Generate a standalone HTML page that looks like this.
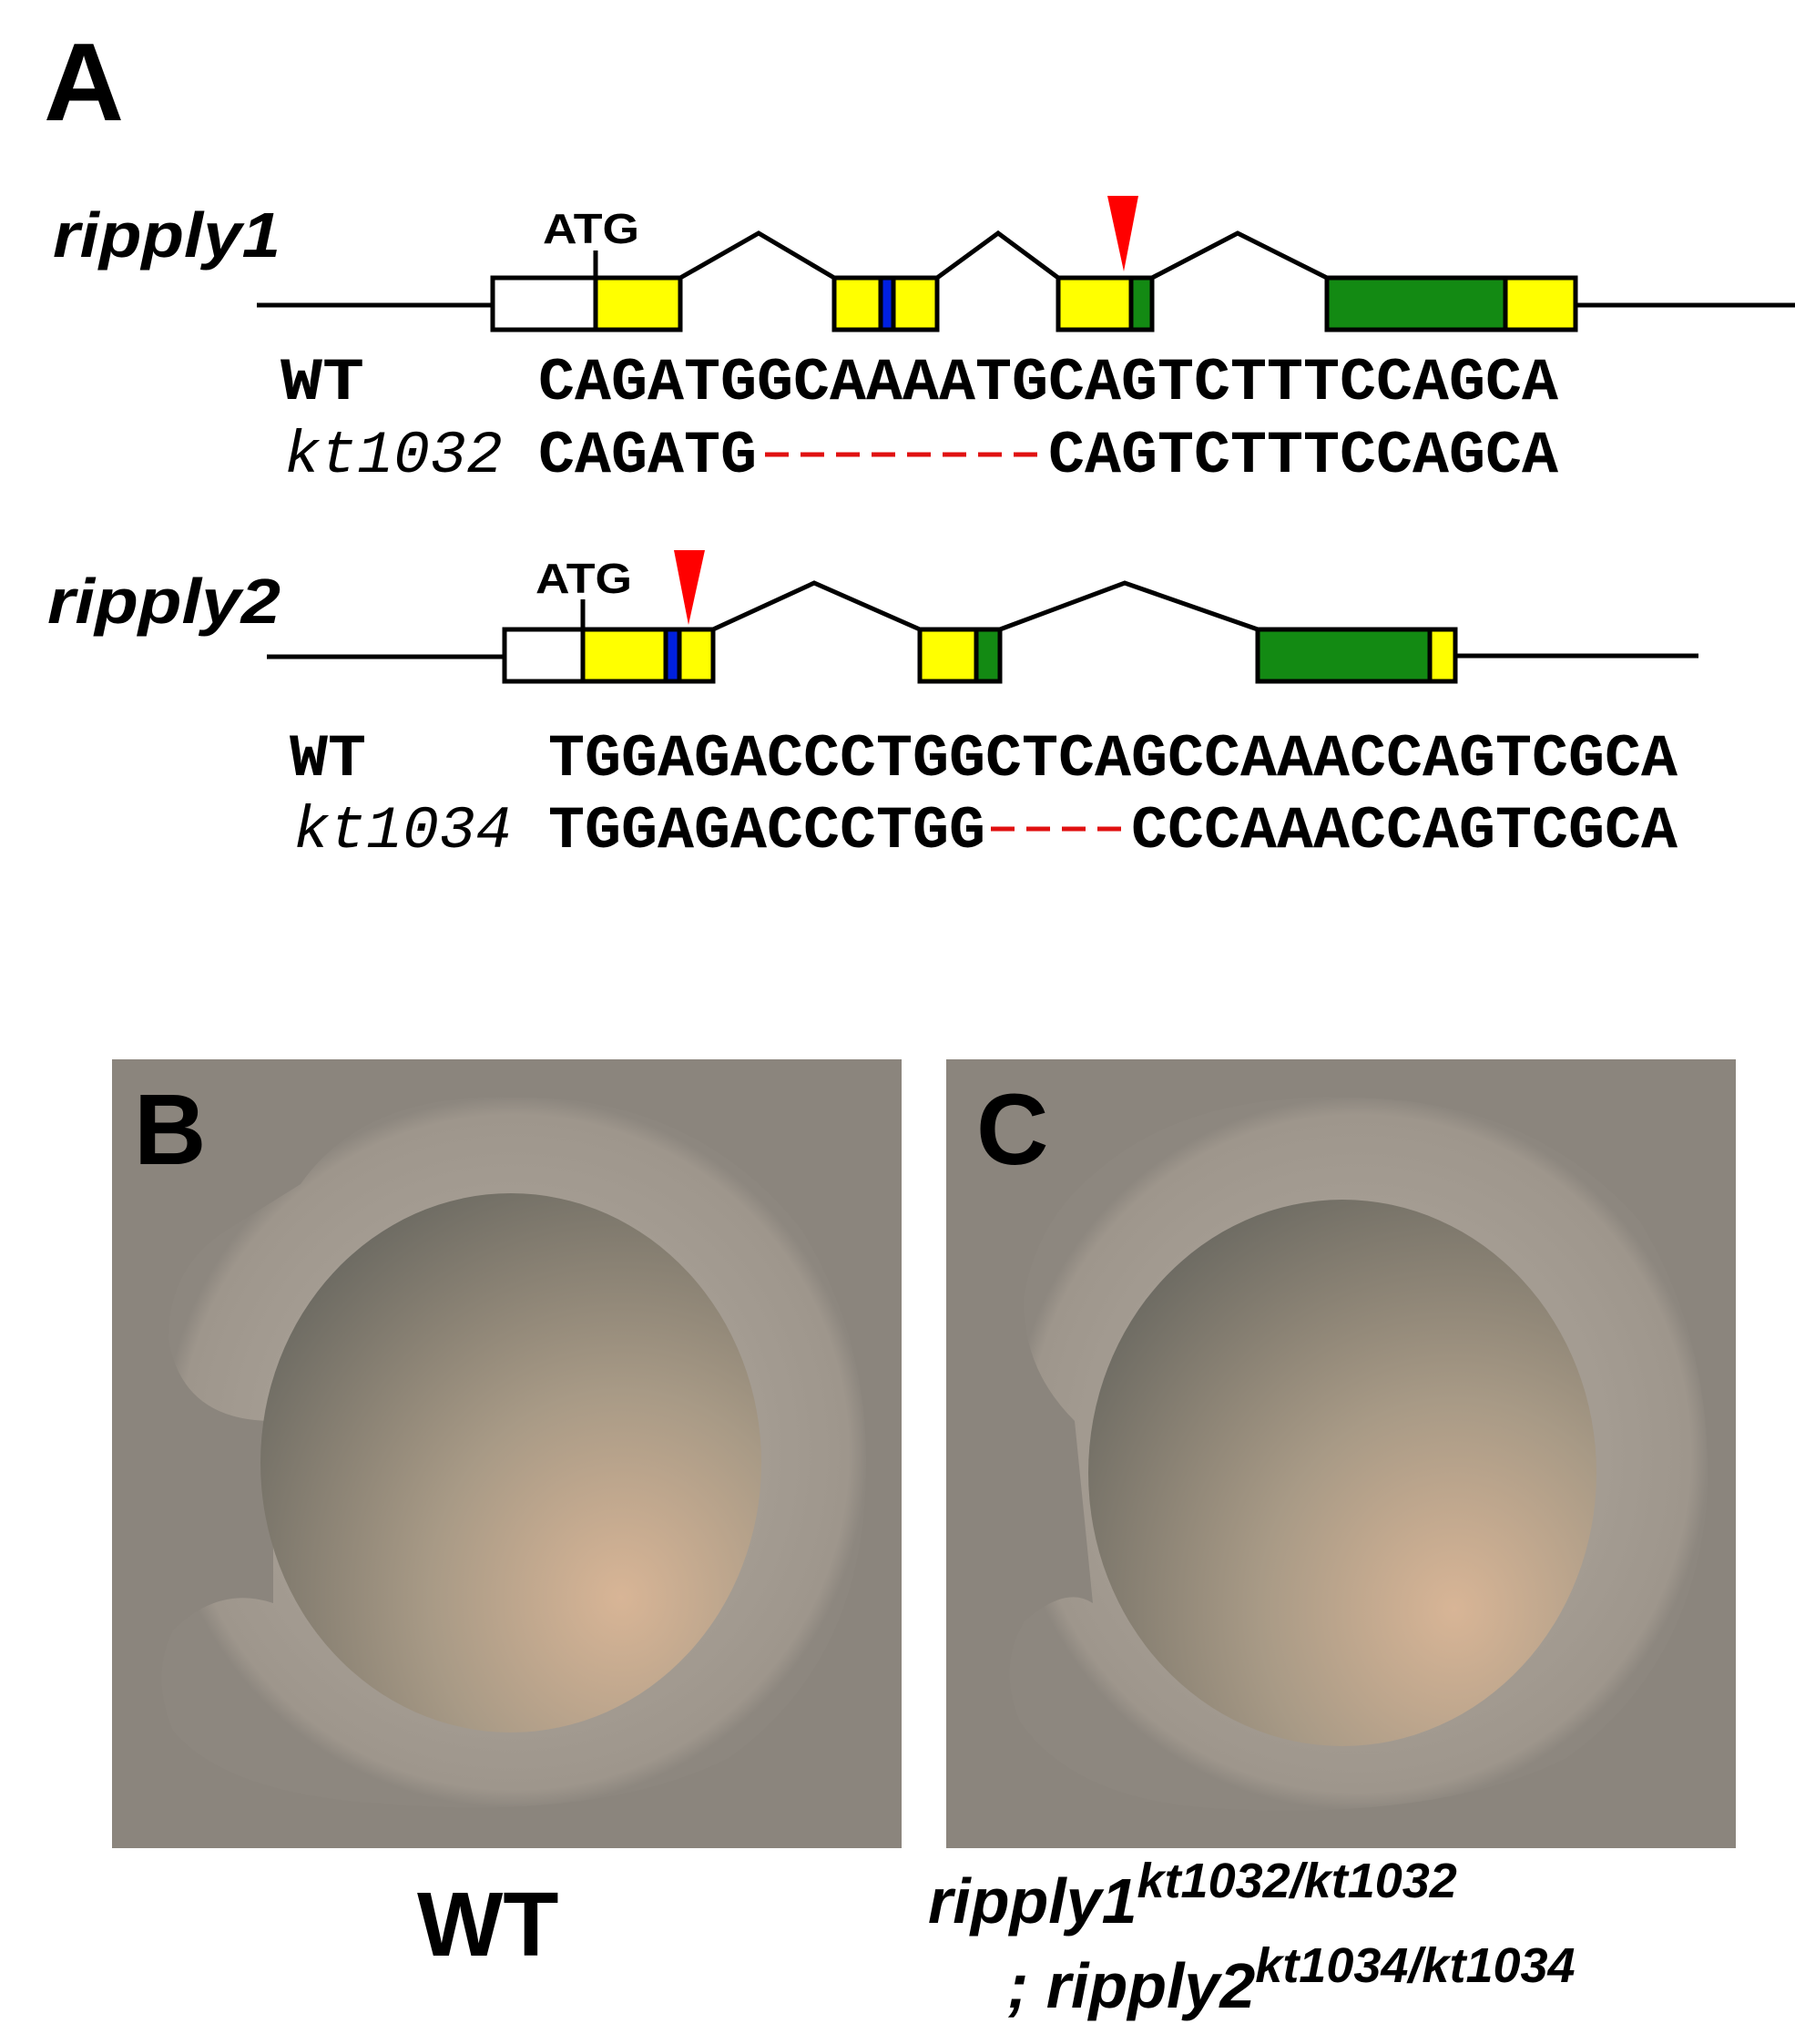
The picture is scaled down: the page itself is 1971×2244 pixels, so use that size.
<!DOCTYPE html>
<html><head><style>
html,body{margin:0;padding:0;background:#fff;}
svg{display:block;}
</style></head><body>
<svg width="1971" height="2244" viewBox="0 0 1971 2244" xmlns="http://www.w3.org/2000/svg">
<defs>
<radialGradient id="yolk" cx="0.72" cy="0.75" r="0.85">
<stop offset="0" stop-color="#d8b596"/>
<stop offset="0.45" stop-color="#a89a86"/>
<stop offset="1" stop-color="#6c6a62"/>
</radialGradient>
<radialGradient id="body" cx="0.5" cy="0.5" r="0.5">
<stop offset="0.7" stop-color="#a49c92"/>
<stop offset="0.95" stop-color="#9e968c"/>
<stop offset="1" stop-color="#8d877f"/>
</radialGradient>
</defs>
<g font-family="Liberation Sans, sans-serif" font-weight="bold">
<text x="48" y="132" font-size="122">A</text>
<text x="58" y="282" font-size="70" font-style="italic" textLength="250" lengthAdjust="spacingAndGlyphs">ripply1</text>
<text x="52" y="684" font-size="70" font-style="italic" textLength="256" lengthAdjust="spacingAndGlyphs">ripply2</text>
<text x="596" y="267" font-size="46" textLength="106" lengthAdjust="spacingAndGlyphs">ATG</text>
<text x="588" y="651" font-size="46" textLength="106" lengthAdjust="spacingAndGlyphs">ATG</text>
</g>
<g stroke="#000" stroke-width="5" fill="none">
<line x1="282" y1="335" x2="541" y2="335"/>
<line x1="1730" y1="335" x2="1971" y2="335"/>
<polyline points="747,305 833,256 916,305"/>
<polyline points="1029,305 1096,256 1162,305"/>
<polyline points="1265,305 1359,256 1457,305"/>
<line x1="654" y1="275" x2="654" y2="305"/>
<line x1="293" y1="721" x2="554" y2="721"/>
<line x1="1598" y1="720" x2="1865" y2="720"/>
<polyline points="783,691 894,640 1010,691"/>
<polyline points="1098,691 1235,640 1381,691"/>
<line x1="640" y1="658" x2="640" y2="691"/>
</g>
<g stroke="#000" stroke-width="5">
<rect x="541" y="305" width="113" height="57" fill="#fff"/>
<rect x="654" y="305" width="93" height="57" fill="#ffff00"/>
<rect x="916" y="305" width="113" height="57" fill="#ffff00"/>
<rect x="967" y="305" width="14" height="57" fill="#0020e0"/>
<rect x="1162" y="305" width="103" height="57" fill="#ffff00"/>
<rect x="1242" y="305" width="23" height="57" fill="#138a13"/>
<rect x="1457" y="305" width="196" height="57" fill="#138a13"/>
<rect x="1653" y="305" width="77" height="57" fill="#ffff00"/>
<rect x="554" y="691" width="86" height="57" fill="#fff"/>
<rect x="640" y="691" width="143" height="57" fill="#ffff00"/>
<rect x="731" y="691" width="15" height="57" fill="#0020e0"/>
<rect x="1010" y="691" width="88" height="57" fill="#ffff00"/>
<rect x="1072" y="691" width="26" height="57" fill="#138a13"/>
<rect x="1381" y="691" width="189" height="57" fill="#138a13"/>
<rect x="1570" y="691" width="28" height="57" fill="#ffff00"/>
</g>
<polygon points="1216,215 1250,215 1234,298" fill="#ff0000"/>
<polygon points="740,604 774,604 756,686" fill="#ff0000"/>
<g font-family="Liberation Mono, monospace" font-size="66" fill="#000">
<text x="308" y="438" font-weight="bold" textLength="92" lengthAdjust="spacingAndGlyphs">WT</text>
<text x="591" y="438" font-weight="bold" textLength="1120" lengthAdjust="spacingAndGlyphs">CAGATGGCAAAATGCAGTCTTTCCAGCA</text>
<text x="312" y="518" font-style="italic" textLength="240" lengthAdjust="spacingAndGlyphs">kt1032</text>
<text x="591" y="518" font-weight="bold" textLength="240" lengthAdjust="spacingAndGlyphs">CAGATG</text>
<text x="1151" y="518" font-weight="bold" textLength="560" lengthAdjust="spacingAndGlyphs">CAGTCTTTCCAGCA</text>
<text x="318" y="851" font-weight="bold" textLength="84" lengthAdjust="spacingAndGlyphs">WT</text>
<text x="602" y="851" font-weight="bold" textLength="1240" lengthAdjust="spacingAndGlyphs">TGGAGACCCTGGCTCAGCCAAACCAGTCGCA</text>
<text x="322" y="930" font-style="italic" textLength="240" lengthAdjust="spacingAndGlyphs">kt1034</text>
<text x="602" y="930" font-weight="bold" textLength="480" lengthAdjust="spacingAndGlyphs">TGGAGACCCTGG</text>
<text x="1242" y="930" font-weight="bold" textLength="600" lengthAdjust="spacingAndGlyphs">CCCAAACCAGTCGCA</text>
</g>
<line x1="840" y1="499" x2="1145" y2="499" stroke="#e01010" stroke-width="5" stroke-dasharray="26,13"/>
<line x1="1088" y1="910" x2="1238" y2="910" stroke="#e01010" stroke-width="5" stroke-dasharray="26,13"/>

<!-- Photo B -->
<rect x="123" y="1163" width="867" height="866" fill="#8b857d"/>
<path d="M330,1300 Q400,1200 560,1205 Q760,1200 880,1350 Q960,1480 950,1640 Q940,1830 800,1930 Q660,2000 420,1980 Q250,1970 190,1900 Q165,1840 190,1790 Q240,1740 300,1760 L300,1560 Q200,1560 185,1470 Q185,1390 250,1350 Z" fill="url(#body)"/>
<ellipse cx="561" cy="1606" rx="275" ry="296" fill="url(#yolk)"/>
<text x="147" y="1278" font-family="Liberation Sans, sans-serif" font-weight="bold" font-size="110">B</text>

<!-- Photo C -->
<rect x="1039" y="1163" width="867" height="866" fill="#8b857d"/>
<path d="M1200,1290 Q1300,1200 1480,1205 Q1680,1205 1800,1340 Q1880,1470 1875,1640 Q1860,1830 1720,1930 Q1580,2000 1330,1985 Q1180,1975 1120,1890 Q1095,1830 1125,1780 Q1170,1740 1200,1760 L1180,1560 Q1120,1500 1125,1420 Q1140,1340 1200,1290 Z" fill="url(#body)"/>
<ellipse cx="1474" cy="1617" rx="279" ry="300" fill="url(#yolk)"/>
<text x="1072" y="1278" font-family="Liberation Sans, sans-serif" font-weight="bold" font-size="110">C</text>

<g font-family="Liberation Sans, sans-serif" font-weight="bold">
<text x="458" y="2147" font-size="100">WT</text>
<text x="1019" y="2111" font-size="70" font-style="italic">ripply1<tspan font-size="54" dy="-28">kt1032/kt1032</tspan></text>
<text x="1106" y="2204" font-size="70" font-style="italic">; ripply2<tspan font-size="54" dy="-28">kt1034/kt1034</tspan></text>
</g>
</svg>
</body></html>
